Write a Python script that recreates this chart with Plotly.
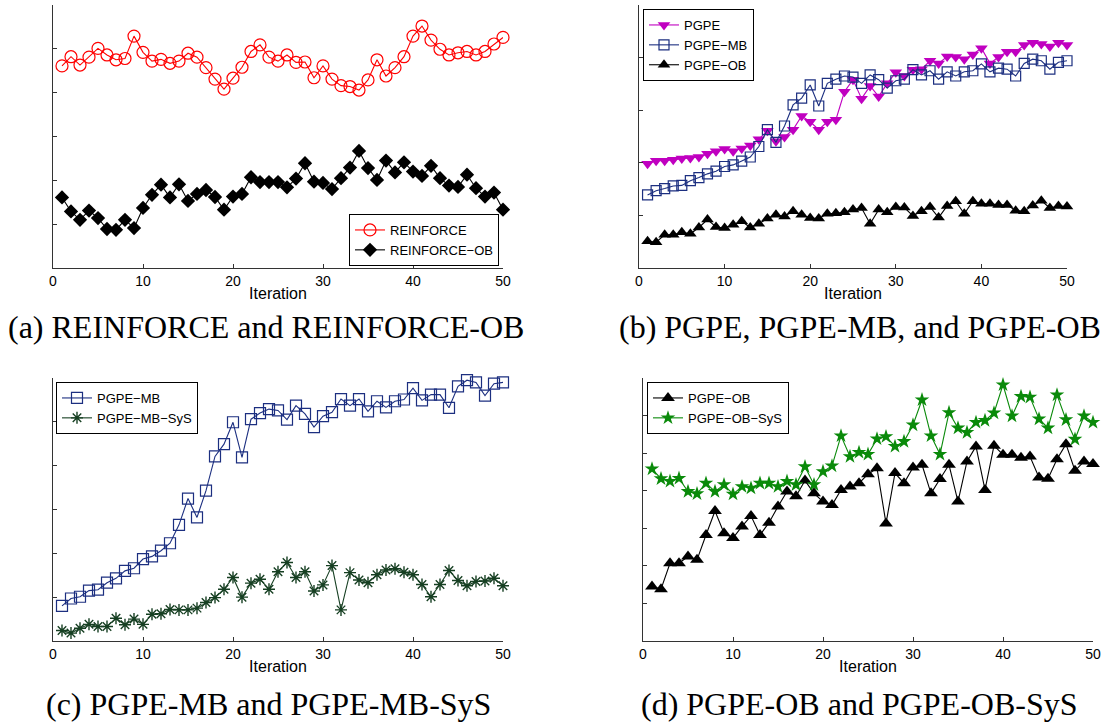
import plotly.graph_objects as go

W, H = 1110, 726
iters = list(range(1, 51))

# Panel (a)
reinforce = [4.61, 4.82, 4.63, 4.81, 5.01, 4.86, 4.75, 4.78, 5.29, 4.92,
             4.72, 4.76, 4.67, 4.72, 4.90, 4.81, 4.57, 4.31, 4.08, 4.33,
             4.58, 4.94, 5.09, 4.81, 4.72, 4.86, 4.69, 4.70, 4.34, 4.61,
             4.31, 4.16, 4.14, 4.06, 4.29, 4.75, 4.38, 4.57, 4.82, 5.29,
             5.52, 5.20, 4.99, 4.86, 4.91, 4.94, 4.86, 4.94, 5.11, 5.26]
reinforce_ob = [1.61, 1.29, 1.10, 1.31, 1.14, 0.89, 0.87, 1.10, 0.91, 1.37,
                1.67, 1.90, 1.61, 1.91, 1.53, 1.69, 1.78, 1.62, 1.33, 1.63,
                1.69, 2.07, 1.96, 1.96, 1.96, 1.84, 2.04, 2.39, 1.97, 1.94,
                1.80, 2.05, 2.29, 2.67, 2.28, 2.01, 2.45, 2.18, 2.41, 2.20,
                2.10, 2.33, 2.05, 1.88, 1.85, 2.13, 1.82, 1.63, 1.72, 1.33]

# Panel (b)
pgpe = [1.98, 2.04, 2.04, 2.06, 2.08, 2.09, 2.11, 2.17, 2.22, 2.26,
        2.22, 2.27, 2.33, 2.45, 2.61, 2.41, 2.49, 2.63, 2.89, 2.78,
        2.63, 2.78, 2.82, 3.35, 3.58, 3.22, 3.46, 3.26, 3.51, 3.72,
        3.65, 3.77, 3.78, 3.94, 3.89, 4.02, 4.01, 3.97, 4.06, 4.18,
        3.89, 4.01, 4.11, 4.11, 4.24, 4.28, 4.26, 4.21, 4.28, 4.24]
pgpe_mb_b = [1.39, 1.47, 1.51, 1.56, 1.57, 1.66, 1.72, 1.79, 1.84, 1.93,
             1.96, 2.03, 2.11, 2.31, 2.63, 2.39, 2.70, 3.10, 3.23, 3.48,
             3.08, 3.51, 3.59, 3.65, 3.63, 3.51, 3.67, 3.58, 3.42, 3.56,
             3.59, 3.77, 3.67, 3.75, 3.59, 3.73, 3.65, 3.73, 3.75, 3.88,
             3.73, 3.80, 3.78, 3.65, 3.89, 3.97, 3.94, 3.78, 3.91, 3.94]
pgpe_ob_b = [0.51, 0.49, 0.63, 0.63, 0.68, 0.65, 0.77, 0.92, 0.78, 0.76,
             0.82, 0.89, 0.77, 0.84, 0.94, 1.01, 0.98, 1.08, 1.01, 0.95,
             0.94, 1.03, 1.04, 1.06, 1.11, 1.14, 0.84, 1.11, 1.06, 1.16,
             1.15, 0.99, 1.08, 1.16, 0.96, 1.18, 1.27, 1.03, 1.27, 1.22,
             1.22, 1.20, 1.20, 1.09, 1.08, 1.19, 1.28, 1.14, 1.18, 1.17]

# Panel (c)
pgpe_mb_c = [0.80, 0.97, 1.01, 1.15, 1.17, 1.33, 1.43, 1.60, 1.66, 1.87,
             1.93, 2.06, 2.23, 2.65, 3.25, 2.82, 3.43, 4.21, 4.49, 4.99,
             4.19, 5.06, 5.20, 5.29, 5.26, 5.05, 5.37, 5.18, 4.88, 5.13,
             5.22, 5.52, 5.37, 5.52, 5.24, 5.47, 5.33, 5.47, 5.51, 5.77,
             5.49, 5.62, 5.62, 5.32, 5.81, 5.95, 5.90, 5.60, 5.87, 5.90]
pgpe_mb_sys = [0.24, 0.18, 0.29, 0.38, 0.33, 0.33, 0.52, 0.37, 0.50, 0.38,
               0.61, 0.62, 0.72, 0.71, 0.71, 0.75, 0.88, 0.99, 1.18, 1.45,
               1.00, 1.32, 1.41, 1.18, 1.58, 1.79, 1.45, 1.58, 1.14, 1.28,
               1.72, 0.71, 1.56, 1.39, 1.33, 1.51, 1.62, 1.65, 1.57, 1.51,
               1.29, 1.01, 1.29, 1.61, 1.38, 1.26, 1.36, 1.37, 1.43, 1.26]

# Panel (d)
pgpe_ob_d = [1.45, 1.38, 2.07, 2.07, 2.25, 2.16, 2.82, 3.46, 2.87, 2.74,
             3.05, 3.33, 2.82, 3.15, 3.58, 3.98, 3.85, 4.27, 3.93, 3.71,
             3.62, 4.02, 4.11, 4.20, 4.44, 4.60, 3.13, 4.47, 4.20, 4.62,
             4.69, 3.93, 4.31, 4.69, 3.71, 4.78, 5.18, 4.02, 5.20, 4.96,
             4.96, 4.88, 4.91, 4.35, 4.32, 4.84, 5.24, 4.53, 4.78, 4.71]
pgpe_ob_sys = [4.58, 4.32, 4.25, 4.33, 3.98, 3.92, 4.20, 3.98, 4.16, 3.91,
               4.11, 4.07, 4.20, 4.20, 4.11, 4.25, 4.16, 4.64, 4.16, 4.51,
               4.66, 5.46, 4.91, 5.02, 4.97, 5.38, 5.44, 5.18, 5.31, 5.75,
               6.42, 5.46, 4.97, 6.08, 5.67, 5.55, 5.82, 5.87, 6.07, 6.82,
               5.99, 6.51, 6.49, 5.91, 5.67, 6.55, 5.89, 5.37, 5.99, 5.82]

x_ticks = [0, 10, 20, 30, 40, 50]
captions = ["(a) REINFORCE and REINFORCE-OB",
            "(b) PGPE, PGPE-MB, and PGPE-OB",
            "(c) PGPE-MB and PGPE-MB-SyS",
            "(d) PGPE-OB and PGPE-OB-SyS"]

MAG = "#c000c0"
NAVY = "#1c2f80"
DKGREEN = "#163f22"
GREEN = "#0a8a0a"

fig = go.Figure()

def add(y, name, xa, ya, legend, color, symbol, size, mline=1.2, mfill=None):
    fig.add_trace(go.Scatter(
        x=iters, y=y, name=name, mode="lines+markers",
        xaxis=xa, yaxis=ya, legend=legend, cliponaxis=False,
        line=dict(color=color, width=1.1),
        marker=dict(symbol=symbol, size=size,
                    color=mfill if mfill is not None else color,
                    line=dict(color=color, width=mline)),
    ))

add(reinforce, "REINFORCE", "x", "y", "legend", "#ff0000", "circle-open", 12)
add(reinforce_ob, "REINFORCE\u2212OB", "x", "y", "legend", "#000000", "diamond", 11, mline=0)
add(pgpe, "PGPE", "x2", "y2", "legend2", MAG, "triangle-down", 11, mline=0)
add(pgpe_mb_b, "PGPE\u2212MB", "x2", "y2", "legend2", NAVY, "square-open", 10)
add(pgpe_ob_b, "PGPE\u2212OB", "x2", "y2", "legend2", "#000000", "triangle-up", 11, mline=0)
add(pgpe_mb_c, "PGPE\u2212MB", "x3", "y3", "legend3", NAVY, "square-open", 11)
add(pgpe_mb_sys, "PGPE\u2212MB\u2212SyS", "x3", "y3", "legend3", DKGREEN, "asterisk-open", 10, mline=1.4)
add(pgpe_ob_d, "PGPE\u2212OB", "x4", "y4", "legend4", "#000000", "triangle-up", 12, mline=0)
add(pgpe_ob_sys, "PGPE\u2212OB\u2212SyS", "x4", "y4", "legend4", GREEN, "star", 11, mline=0)

def px_x(p):
    return p / W

def px_y(p):
    return (H - p) / H

panels = [
    # (x0, x1, ytop, ybottom, ymax)
    (53, 503, 5, 268, 6),
    (639, 1067, 5, 268, 5),
    (53, 503, 378, 641, 6),
    (643, 1093, 378, 641, 7),
]

axis_font = dict(family="Liberation Sans, Arial, sans-serif", size=14, color="#000")
layout = dict(
    width=W, height=H, margin=dict(l=0, r=0, t=0, b=0),
    paper_bgcolor="white", plot_bgcolor="white",
    font=axis_font,
)
for i, (x0, x1, yt, yb, ymax) in enumerate(panels):
    sfx = "" if i == 0 else str(i + 1)
    layout["xaxis" + sfx] = dict(
        domain=[px_x(x0), px_x(x1)], anchor="y" + sfx, range=[0, 50],
        tickvals=x_ticks, ticktext=[str(v) for v in x_ticks],
        ticks="inside", ticklen=4, tickcolor="#333", showline=True,
        linecolor="#333", linewidth=1, showgrid=False, zeroline=False,
        automargin=False,
        tickfont=dict(size=14), title=dict(text="Iteration", font=dict(size=16), standoff=0),
    )
    layout["yaxis" + sfx] = dict(
        domain=[px_y(yb), px_y(yt)], anchor="x" + sfx, range=[0, ymax],
        tickvals=list(range(0, ymax + 1)), showticklabels=False,
        ticks="inside", ticklen=4, tickcolor="#333", showline=True,
        linecolor="#333", linewidth=1, showgrid=False, zeroline=False,
        automargin=False,
    )

leg_common = dict(
    bgcolor="white", bordercolor="#000", borderwidth=1,
    font=dict(family="Liberation Sans, Arial, sans-serif", size=13, color="#000"),
    itemwidth=30, tracegroupgap=0,
)
layout["legend"] = dict(x=px_x(499), y=px_y(266), xanchor="right", yanchor="bottom", **leg_common)
layout["legend2"] = dict(x=px_x(643), y=px_y(9), xanchor="left", yanchor="top", **leg_common)
layout["legend3"] = dict(x=px_x(56), y=px_y(382), xanchor="left", yanchor="top", **leg_common)
layout["legend4"] = dict(x=px_x(647), y=px_y(382), xanchor="left", yanchor="top", **leg_common)

fig.update_layout(**layout)

cap_pos = [(266, 327), (860, 327), (268, 704), (859, 704)]
for text, (cx, cy) in zip(captions, cap_pos):
    fig.add_annotation(
        text=text, xref="paper", yref="paper", x=px_x(cx), y=px_y(cy),
        xanchor="center", yanchor="middle", showarrow=False,
        font=dict(family="Liberation Serif, Times New Roman, serif", size=32, color="#000"),
    )

fig.write_html("out.html")
